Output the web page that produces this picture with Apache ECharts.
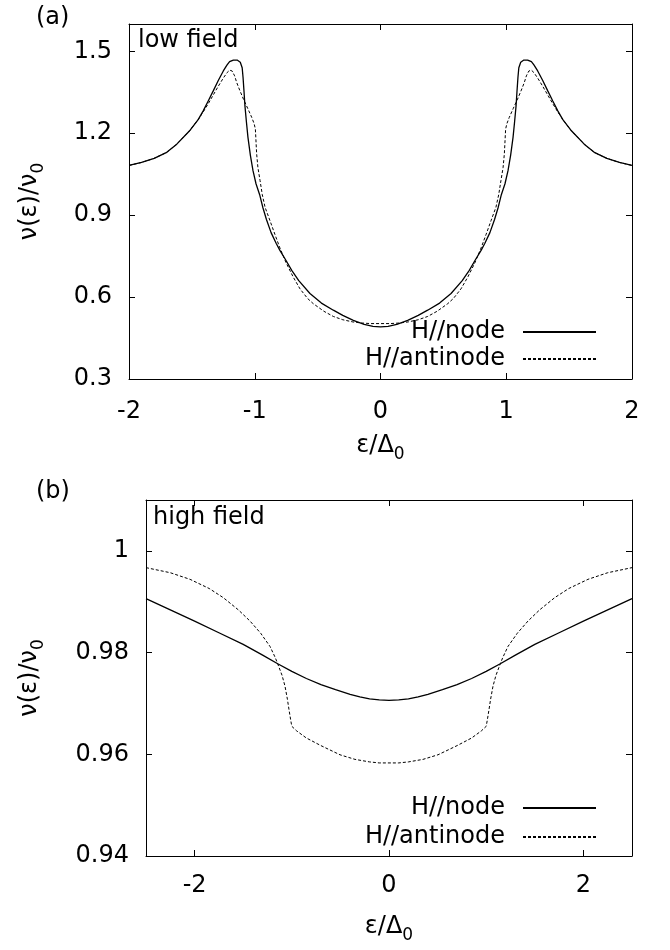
<!DOCTYPE html>
<html>
<head>
<meta charset="utf-8">
<script src="https://cdn.jsdelivr.net/npm/echarts@6.0.0/dist/echarts.min.js"></script>
<style>
  html, body { margin: 0; padding: 0; background: #fff; }
  #chart { width: 670px; height: 950px; }
</style>
</head>
<body>
<div id="chart"></div>
<script>
// panel (a): low field, [epsilon, nu] pairs
const lowNode = [
  [-2, 1.082], [-1.9, 1.093], [-1.8, 1.108], [-1.7, 1.13], [-1.62, 1.16], [-1.52, 1.208],
  [-1.45, 1.25], [-1.41, 1.282], [-1.37, 1.318], [-1.33, 1.355], [-1.29, 1.393], [-1.25, 1.428],
  [-1.22, 1.45], [-1.2, 1.462], [-1.17, 1.468], [-1.14, 1.468], [-1.115, 1.46], [-1.1, 1.44],
  [-1.093, 1.404], [-1.085, 1.35], [-1.078, 1.3], [-1.066, 1.24], [-1.054, 1.185], [-1.035, 1.12],
  [-1.014, 1.063], [-0.99, 1.015], [-0.961, 0.975], [-0.935, 0.927], [-0.907, 0.884], [-0.87, 0.836],
  [-0.83, 0.797], [-0.8, 0.771], [-0.75, 0.733], [-0.706, 0.698], [-0.65, 0.66], [-0.561, 0.613],
  [-0.47, 0.578], [-0.375, 0.552], [-0.3, 0.533], [-0.216, 0.515], [-0.13, 0.5], [-0.06, 0.493],
  [0, 0.491],
  [0.06, 0.493], [0.13, 0.5], [0.216, 0.515], [0.3, 0.533], [0.375, 0.552], [0.47, 0.578],
  [0.561, 0.613], [0.65, 0.66], [0.706, 0.698], [0.75, 0.733], [0.8, 0.771], [0.83, 0.797],
  [0.87, 0.836], [0.907, 0.884], [0.935, 0.927], [0.961, 0.975], [0.99, 1.015], [1.014, 1.063],
  [1.035, 1.12], [1.054, 1.185], [1.066, 1.24], [1.078, 1.3], [1.085, 1.35], [1.093, 1.404],
  [1.1, 1.44], [1.115, 1.46], [1.14, 1.468], [1.17, 1.468], [1.2, 1.462], [1.22, 1.45],
  [1.25, 1.428], [1.29, 1.393], [1.33, 1.355], [1.37, 1.318], [1.41, 1.282], [1.45, 1.25],
  [1.52, 1.208], [1.62, 1.16], [1.7, 1.13], [1.8, 1.108], [1.9, 1.093], [2, 1.082]
]
const lowAntinode = [
  [-2, 1.082], [-1.9, 1.093], [-1.8, 1.108], [-1.7, 1.13], [-1.62, 1.16], [-1.52, 1.208],
  [-1.45, 1.25], [-1.41, 1.278], [-1.37, 1.308], [-1.33, 1.34], [-1.29, 1.372], [-1.25, 1.402],
  [-1.22, 1.422], [-1.2, 1.431], [-1.18, 1.428], [-1.16, 1.41], [-1.143, 1.385], [-1.12, 1.358],
  [-1.09, 1.325], [-1.055, 1.29], [-1.024, 1.258], [-1.005, 1.235], [-0.995, 1.215], [-0.985, 1.125],
  [-0.975, 1.075], [-0.958, 1.027], [-0.94, 0.975], [-0.918, 0.929], [-0.879, 0.88], [-0.84, 0.83],
  [-0.8, 0.78], [-0.75, 0.725], [-0.695, 0.674], [-0.64, 0.63], [-0.58, 0.595], [-0.535, 0.576],
  [-0.45, 0.548], [-0.375, 0.529], [-0.3, 0.517], [-0.22, 0.509], [-0.15, 0.505], [-0.08, 0.503],
  [0, 0.503],
  [0.08, 0.503], [0.15, 0.505], [0.22, 0.509], [0.3, 0.517], [0.375, 0.529], [0.45, 0.548],
  [0.535, 0.576], [0.58, 0.595], [0.64, 0.63], [0.695, 0.674], [0.75, 0.725], [0.8, 0.78],
  [0.84, 0.83], [0.879, 0.88], [0.918, 0.929], [0.94, 0.975], [0.958, 1.027], [0.975, 1.075],
  [0.985, 1.125], [0.995, 1.215], [1.005, 1.235], [1.024, 1.258], [1.055, 1.29], [1.09, 1.325],
  [1.12, 1.358], [1.143, 1.385], [1.16, 1.41], [1.18, 1.428], [1.2, 1.431], [1.22, 1.422],
  [1.25, 1.402], [1.29, 1.372], [1.33, 1.34], [1.37, 1.308], [1.41, 1.278], [1.45, 1.25],
  [1.52, 1.208], [1.62, 1.16], [1.7, 1.13], [1.8, 1.108], [1.9, 1.093], [2, 1.082]
]

// panel (b): high field
const highNode = [
  [-2.5, 0.9906], [-2.25, 0.9884], [-2, 0.9862], [-1.75, 0.9839], [-1.5, 0.9816], [-1.3, 0.9795],
  [-1.145, 0.9778], [-1, 0.9763], [-0.85, 0.9749], [-0.7, 0.9737], [-0.55, 0.9727], [-0.4, 0.9718],
  [-0.3, 0.9713], [-0.2, 0.9709], [-0.1, 0.9707], [0, 0.9706],
  [0.1, 0.9707], [0.2, 0.9709], [0.3, 0.9713], [0.4, 0.9718], [0.55, 0.9727], [0.7, 0.9737],
  [0.85, 0.9749], [1, 0.9763], [1.145, 0.9778], [1.3, 0.9795], [1.5, 0.9816], [1.75, 0.9839],
  [2, 0.9862], [2.25, 0.9884], [2.5, 0.9906]
]
const highAntinode = [
  [-2.5, 0.9967], [-2.25, 0.9957], [-2.047, 0.9944], [-1.85, 0.9926], [-1.705, 0.9908], [-1.55, 0.9884],
  [-1.43, 0.9862], [-1.32, 0.9838], [-1.224, 0.9812], [-1.17, 0.979], [-1.145, 0.9778], [-1.1, 0.9755],
  [-1.07, 0.9734], [-1.045, 0.9708], [-1.029, 0.9688], [-1.012, 0.9668], [-1, 0.9655], [-0.95, 0.9646],
  [-0.85, 0.9632], [-0.7, 0.9617], [-0.504, 0.9599], [-0.35, 0.959], [-0.2, 0.9585], [-0.1, 0.9583],
  [0, 0.9583],
  [0.1, 0.9583], [0.2, 0.9585], [0.35, 0.959], [0.504, 0.9599], [0.7, 0.9617], [0.85, 0.9632],
  [0.95, 0.9646], [1, 0.9655], [1.012, 0.9668], [1.029, 0.9688], [1.045, 0.9708], [1.07, 0.9734],
  [1.1, 0.9755], [1.145, 0.9778], [1.17, 0.979], [1.224, 0.9812], [1.32, 0.9838], [1.43, 0.9862],
  [1.55, 0.9884], [1.705, 0.9908], [1.85, 0.9926], [2.047, 0.9944], [2.25, 0.9957], [2.5, 0.9967]
]

const lowXTicks = [-2, -1, 0, 1, 2]
const lowYTicks = [0.3, 0.6, 0.9, 1.2, 1.5]
const highXTicks = [-2, 0, 2]
const highYTicks = [0.94, 0.96, 0.98, 1]

const FONT = 'DejaVu Sans'
const names = { node: 'H//node', antinode: 'H//antinode' }

function axis(opt) {
  const { grid, pos, min, max, ticks, labels, margin, name, nameGap } = opt
  return {
    type: 'value',
    gridIndex: grid,
    position: pos,
    min,
    max,
    name: name || '',
    nameLocation: 'middle',
    nameGap: nameGap || 0,
    nameTextStyle: {
      fontFamily: FONT,
      fontSize: 24,
      color: '#000',
      lineHeight: 28,
      rich: { s: { fontFamily: FONT, fontSize: 17, lineHeight: 34, verticalAlign: 'bottom', color: '#000' } }
    },
    splitLine: { show: false },
    axisLine: { show: true, onZero: false, lineStyle: { color: '#000', width: 1 } },
    axisTick: { show: true, inside: true, length: 6, customValues: ticks, lineStyle: { color: '#000', width: 1 } },
    axisLabel: {
      show: !!labels,
      customValues: ticks,
      margin: margin || 17,
      fontFamily: FONT,
      fontSize: 24,
      color: '#000'
    }
  }
}

function legendItem(name, top) {
  return {
    data: [name],
    right: 73,
    top,
    padding: 0,
    align: 'right',
    itemWidth: 73,
    itemHeight: 24,
    selectedMode: false,
    itemStyle: { opacity: 0 },
    textStyle: { fontFamily: FONT, fontSize: 24, color: '#000', lineHeight: 24, padding: [0, 13, 0, 0] }
  }
}

function line(name, data, xi, yi, dashed) {
  return {
    name,
    type: 'line',
    xAxisIndex: xi,
    yAxisIndex: yi,
    data,
    symbol: 'none',
    showSymbol: false,
    animation: false,
    itemStyle: { color: '#000' },
    lineStyle: { color: '#000', width: dashed ? 1 : 1.3, type: dashed ? [3, 2] : 'solid' }
  }
}

const chart = echarts.init(document.getElementById('chart'), null, { renderer: 'canvas' })

chart.setOption({
  backgroundColor: '#fff',
  animation: false,
  grid: [
    { left: 129, top: 24, width: 503, height: 355 },
    { left: 146, top: 500, width: 486, height: 356 }
  ],
  xAxis: [
    axis({ grid: 0, pos: 'bottom', min: -2, max: 2, ticks: lowXTicks, labels: true, margin: 21, name: 'ε/Δ{s|0}', nameGap: 50 }),
    axis({ grid: 0, pos: 'top', min: -2, max: 2, ticks: lowXTicks }),
    axis({ grid: 1, pos: 'bottom', min: -2.5, max: 2.5, ticks: highXTicks, labels: true, margin: 18, name: 'ε/Δ{s|0}', nameGap: 54 }),
    axis({ grid: 1, pos: 'top', min: -2.5, max: 2.5, ticks: highXTicks })
  ],
  yAxis: [
    axis({ grid: 0, pos: 'left', min: 0.3, max: 1.6, ticks: lowYTicks, labels: true, name: 'ν(ε)/ν{s|0}', nameGap: 82 }),
    axis({ grid: 0, pos: 'right', min: 0.3, max: 1.6, ticks: lowYTicks }),
    axis({ grid: 1, pos: 'left', min: 0.94, max: 1.01, ticks: highYTicks, labels: true, name: 'ν(ε)/ν{s|0}', nameGap: 99 }),
    axis({ grid: 1, pos: 'right', min: 0.94, max: 1.01, ticks: highYTicks })
  ],
  legend: [
    legendItem(names.node, 320),
    legendItem(names.antinode, 347),
    legendItem(names.node, 796),
    legendItem(names.antinode, 825)
  ],
  graphic: [
    { type: 'text', left: 36, top: 6, style: { text: '(a)', font: '24px "DejaVu Sans"', fill: '#000' } },
    { type: 'text', left: 36, top: 480, style: { text: '(b)', font: '24px "DejaVu Sans"', fill: '#000' } },
    { type: 'text', left: 138, top: 29, style: { text: 'low field', font: '24px "DejaVu Sans"', fill: '#000' } },
    { type: 'text', left: 153, top: 506, style: { text: 'high field', font: '24px "DejaVu Sans"', fill: '#000' } }
  ],
  series: [
    line(names.node, lowNode, 0, 0, false),
    line(names.antinode, lowAntinode, 0, 0, true),
    line(names.node, highNode, 2, 2, false),
    line(names.antinode, highAntinode, 2, 2, true)
  ]
})
</script>
</body>
</html>
